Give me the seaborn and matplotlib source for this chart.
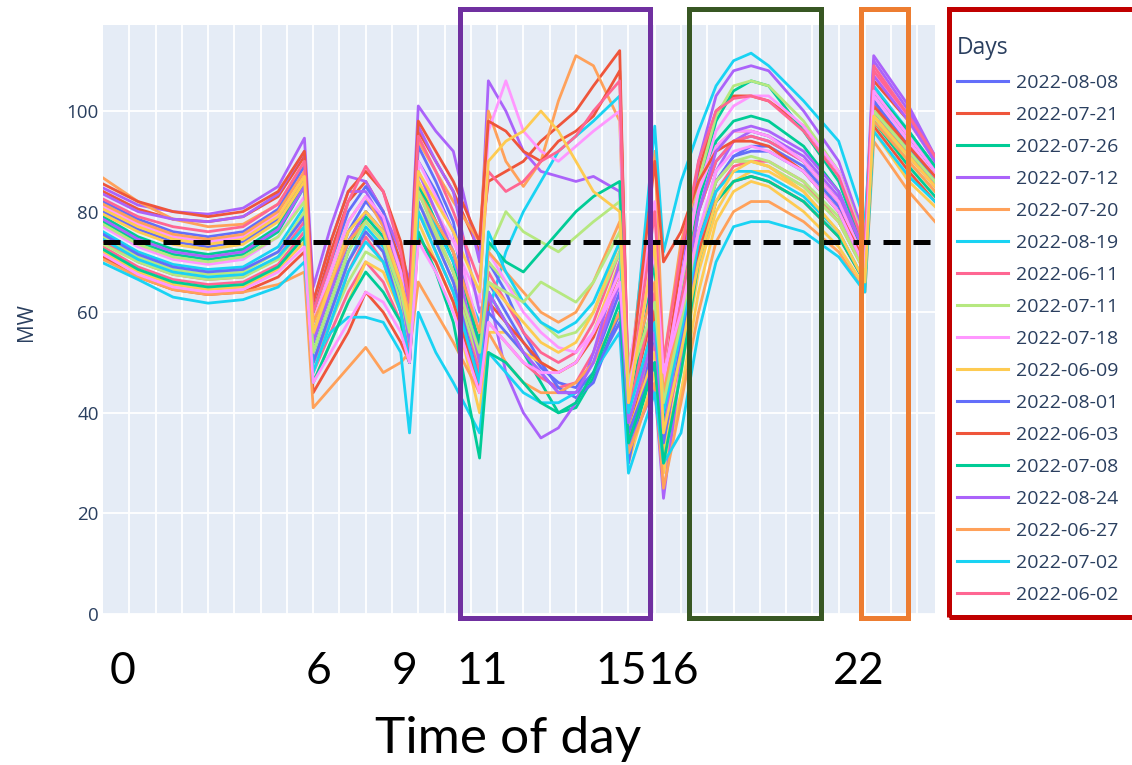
import numpy as np
import pandas as pd
import matplotlib
matplotlib.use("Agg")
import matplotlib.pyplot as plt
from matplotlib.patches import Rectangle
import seaborn as sns

# Sampling instants (hour of day) shared by every daily load profile
hours = [0, 1, 2, 3, 4, 5, 5.75, 6, 6.5, 7, 7.5, 8, 8.5, 8.75, 9, 9.5, 10, 10.75,
         11, 11.5, 12, 12.5, 13, 13.5, 14, 14.75, 15, 15.75, 16, 16.5, 17, 17.5,
         18, 18.5, 19, 20, 21, 21.75, 22, 23, 23.75]

days = ["2022-08-08", "2022-07-21", "2022-07-26", "2022-07-12", "2022-07-20",
        "2022-08-19", "2022-06-11", "2022-07-11", "2022-07-18", "2022-06-09",
        "2022-08-01", "2022-06-03", "2022-07-08", "2022-08-24", "2022-06-27",
        "2022-07-02", "2022-06-02", "2022-06-15", "2022-08-11", "2022-07-28",
        "2022-06-22", "2022-08-16", "2022-06-07", "2022-07-05", "2022-08-03",
        "2022-06-30", "2022-07-14", "2022-08-22", "2022-06-20", "2022-07-25"]

# Load in MW for each day
d0808 = [80, 76.5, 74, 73, 74, 78.5, 87, 56, 66, 76, 82, 78, 66, 56, 90, 84, 76, 50, 66, 60, 54, 49, 46, 45, 50, 64, 34, 58, 38, 58, 76, 86, 91, 93, 93, 89, 81, 71, 102, 92, 86]
d0721 = [84, 80.5, 78.5, 78, 79, 83, 91, 60, 72, 82, 86, 80, 70, 60, 96, 90, 84, 72, 86, 88, 90, 94, 97, 100, 105, 112, 40, 62, 45, 70, 88, 100, 103, 103, 102, 97, 88, 74, 106, 98, 90]
d0726 = [78, 74, 71.5, 70.5, 71.5, 76, 85, 52, 62, 72, 79, 75, 63, 50, 86, 78, 70, 48, 64, 58, 52, 46, 40, 41, 47, 60, 32, 50, 30, 60, 85, 98, 104, 106, 105, 96, 86, 72, 104, 95, 88]
d0712 = [84.7, 81.3, 80, 79.5, 80.7, 85, 94.6, 65, 77, 87, 86, 80, 72, 66, 101, 96, 92, 70, 106, 100, 92, 88, 87, 86, 87, 84, 38, 55, 35, 66, 90, 103, 108, 109, 108, 100, 90, 75, 111, 101, 91]
d0720 = [86.7, 82, 78.5, 77, 77.5, 81.5, 89, 58, 68, 78, 83, 77, 68, 60, 94, 88, 82, 74, 100, 90, 85, 90, 102, 111, 109, 98, 45, 92, 50, 74, 86, 93, 96, 96, 95, 90, 82, 70, 100, 92, 85]
d0819 = [76, 72, 69.5, 68.5, 69, 73, 81, 50, 60, 70, 77, 73, 62, 52, 84, 77, 70, 58, 60, 72, 80, 86, 92, 95, 98, 103, 42, 97, 72, 86, 96, 105, 110, 111.5, 109, 102, 94, 78, 105, 96, 89]
d0611 = [73, 69, 66.5, 65.5, 66, 69.5, 76, 48, 56, 64, 70, 66, 58, 50, 80, 72, 64, 44, 58, 54, 50, 47, 45, 46, 52, 66, 36, 54, 34, 52, 72, 84, 89, 90, 90, 86, 78, 68, 100, 91, 85]
d0711 = [75, 71, 68.5, 67.5, 68, 72, 80, 50, 60, 70, 76, 72, 62, 54, 82, 75, 68, 52, 72, 80, 76, 74, 72, 75, 78, 82, 50, 70, 40, 62, 86, 99, 105, 106, 105, 98, 88, 74, 103, 95, 88]
d0718 = [77, 73, 70.5, 69.5, 70.5, 75, 83, 54, 64, 74, 80, 76, 66, 56, 88, 80, 74, 62, 96, 106, 96, 92, 90, 93, 96, 100, 48, 82, 42, 66, 84, 96, 101, 103, 103, 97, 88, 73, 108, 98, 90]
d0609 = [72, 68, 65.5, 64.5, 65, 68.5, 74, 46, 54, 62, 70, 68, 60, 52, 78, 70, 62, 40, 56, 56, 52, 50, 48, 50, 56, 70, 30, 48, 28, 44, 64, 78, 84, 86, 85, 80, 73, 65, 96, 86, 81]
d0801 = [82, 78.5, 76, 75, 76, 80.5, 89, 60, 70, 80, 85, 80, 68, 58, 93, 86, 78, 52, 70, 64, 56, 50, 45, 43, 46, 60, 30, 56, 36, 62, 80, 90, 94, 95, 94, 90, 82, 72, 104, 95, 88]
d0603 = [71, 67, 64.5, 63.5, 64, 67, 72, 44, 50, 56, 64, 60, 54, 50, 75, 70, 62, 45, 62, 58, 54, 50, 48, 50, 55, 68, 35, 60, 42, 56, 72, 82, 86, 87, 86, 82, 75, 66, 97, 88, 82]
d0708 = [79, 75, 72.5, 71.5, 72.5, 77, 86, 54, 64, 74, 80, 76, 64, 52, 85, 78, 72, 54, 74, 70, 68, 72, 76, 80, 83, 86, 40, 70, 38, 60, 82, 94, 98, 99, 98, 93, 84, 71, 104, 96, 89]
d0824 = [83.5, 80, 78.5, 78, 79, 83.5, 92, 62, 74, 84, 84, 78, 68, 60, 97, 90, 84, 60, 64, 48, 40, 35, 37, 42, 52, 70, 33, 45, 23, 50, 75, 88, 94, 96, 95, 91, 83, 72, 110, 100, 91]
d0627 = [70.5, 67, 64.5, 63.5, 64, 65.5, 68, 41, 45, 49, 53, 48, 50, 52, 66, 60, 54, 44, 56, 50, 46, 44, 44, 46, 50, 60, 32, 46, 25, 42, 60, 74, 80, 82, 82, 78, 72, 64, 94, 84, 78]
d0702 = [69.8, 66.5, 63, 61.8, 62.5, 65, 70, 50, 56, 59, 59, 58, 52, 36, 60, 52, 46, 36, 52, 48, 44, 42, 42, 44, 48, 56, 28, 44, 30, 36, 56, 70, 77, 78, 78, 76, 71, 64, 96, 87, 82]
d0602 = [74, 70, 67.5, 66.5, 67, 71, 78, 50, 58, 68, 75, 70, 60, 52, 84, 76, 68, 48, 68, 62, 56, 52, 50, 52, 58, 72, 40, 64, 44, 62, 80, 90, 94, 95, 94, 90, 82, 70, 109, 99, 90]
d0615 = [73.5, 70, 67.5, 66.5, 67, 70.5, 77, 48, 58, 66, 72, 70, 62, 54, 80, 74, 66, 50, 70, 66, 62, 58, 55, 56, 60, 72, 38, 56, 36, 56, 76, 86, 90, 91, 90, 86, 79, 68, 99, 90, 84]
d0811 = [81, 77.5, 75, 74, 75, 79.5, 88, 58, 68, 78, 83, 79, 68, 56, 90, 83, 76, 56, 72, 66, 60, 56, 53, 52, 56, 68, 42, 74, 46, 66, 84, 93, 96, 96, 95, 90, 82, 70, 103, 94, 87]
d0728 = [79.5, 76, 73.5, 72.5, 73.5, 78, 86, 55, 65, 74, 78, 74, 64, 56, 86, 80, 72, 50, 66, 62, 58, 54, 52, 54, 60, 74, 36, 52, 32, 48, 68, 80, 86, 88, 88, 84, 76, 66, 101, 92, 86]
d0622 = [75.5, 71.5, 69, 68, 68.5, 72, 79, 50, 60, 70, 76, 72, 60, 50, 82, 74, 66, 46, 60, 56, 52, 48, 44, 44, 48, 58, 36, 50, 34, 54, 74, 86, 91, 92, 92, 88, 80, 69, 102, 93, 86]
d0816 = [85.5, 82, 80, 79, 80, 84, 92, 62, 74, 84, 88, 84, 74, 64, 98, 92, 86, 74, 98, 96, 92, 90, 94, 96, 99, 108, 44, 90, 70, 76, 86, 92, 94, 94, 93, 88, 80, 70, 101, 93, 87]
d0607 = [72.5, 68.5, 66, 65, 65.5, 69, 75, 46, 54, 62, 68, 64, 58, 50, 76, 68, 58, 31, 52, 50, 46, 42, 40, 42, 48, 62, 34, 50, 30, 48, 70, 82, 86, 87, 86, 82, 75, 66, 98, 89, 83]
d0705 = [78.5, 74.5, 72, 71, 72, 76.5, 85, 54, 64, 74, 80, 76, 64, 54, 88, 80, 72, 50, 64, 58, 52, 48, 44, 44, 50, 66, 38, 56, 36, 58, 80, 92, 96, 97, 96, 92, 84, 72, 107, 98, 90]
d0803 = [81.5, 78, 75.5, 74.5, 75.5, 80, 88, 58, 66, 74, 78, 74, 66, 60, 84, 78, 72, 56, 72, 68, 64, 60, 58, 60, 66, 78, 46, 66, 44, 60, 76, 86, 90, 90, 89, 85, 78, 68, 98, 90, 84]
d0630 = [74.5, 70.5, 68, 67, 67.5, 71, 77, 48, 58, 68, 74, 70, 60, 50, 80, 72, 64, 46, 76, 68, 62, 58, 56, 58, 62, 74, 40, 58, 40, 56, 74, 84, 88, 88, 87, 83, 76, 66, 100, 92, 86]
d0714 = [82.5, 79, 77, 76, 77, 81.5, 90, 60, 70, 82, 89, 84, 72, 62, 95, 88, 80, 66, 88, 84, 86, 90, 92, 95, 100, 106, 42, 80, 50, 72, 90, 100, 102.5, 103, 102, 96, 87, 73, 108, 99, 91]
d0822 = [77.5, 73.5, 71, 70, 71, 75, 82, 52, 62, 72, 78, 74, 64, 56, 84, 76, 68, 52, 66, 64, 62, 66, 64, 62, 66, 76, 46, 62, 42, 58, 76, 86, 90, 90, 89, 85, 78, 68, 100, 92, 86]
d0620 = [71.5, 67.5, 65, 64, 64.5, 68, 73, 46, 52, 58, 64, 62, 56, 50, 74, 68, 60, 44, 58, 54, 50, 48, 48, 50, 56, 66, 44, 72, 48, 60, 76, 88, 92, 93, 92, 88, 80, 69, 104, 95, 88]
d0725 = [80.5, 77, 74.5, 73.5, 74.5, 79, 87, 56, 66, 76, 80, 76, 66, 58, 88, 82, 76, 64, 90, 94, 96, 100, 96, 90, 84, 80, 42, 74, 36, 52, 70, 82, 88, 90, 89, 84, 76, 66, 99, 91, 85]

series = [d0808, d0721, d0726, d0712, d0720, d0819, d0611, d0711, d0718, d0609,
          d0801, d0603, d0708, d0824, d0627, d0702, d0602, d0615, d0811, d0728,
          d0622, d0816, d0607, d0705, d0803, d0630, d0714, d0822, d0620, d0725]

threshold_mw = 74
y_ticks = [0, 20, 40, 60, 80, 100]
hour_labels = ["0", "6", "9", "11", "15", "16", "22"]

# long-form table for seaborn
rows = []
for day, vals in zip(days, series):
    if len(vals) != len(hours):
        raise ValueError(f"{day}: {len(vals)} values for {len(hours)} hours")
    for h, v in zip(hours, vals):
        rows.append((h, v, day))
df = pd.DataFrame(rows, columns=["hour", "MW", "Days"])

plotly_colors = ["#636EFA", "#EF553B", "#00CC96", "#AB63FA", "#FFA15A",
                 "#19D3F3", "#FF6692", "#B6E880", "#FF97FF", "#FECB52"]
palette = [plotly_colors[i % len(plotly_colors)] for i in range(len(days))]

text_color = "#2a3f5f"
plt.rcParams["font.family"] = ["Open Sans", "DejaVu Sans"]

W, H = 1132, 765
fig = plt.figure(figsize=(W / 100, H / 100), dpi=100)
ax = fig.add_axes([103 / W, 1 - 614 / H, 832 / W, 589 / H])
ax.set_facecolor("#E5ECF6")

sns.lineplot(data=df, x="hour", y="MW", hue="Days", hue_order=days,
             palette=palette, estimator=None, sort=False, lw=2.0,
             legend="full", ax=ax)

ax.axhline(threshold_mw, color="black", lw=3.6, dashes=(3.4, 2.6), zorder=5)

ax.set_xlim(0, 23.75)
ax.set_ylim(0, 117.1)
ax.set_xticks(np.arange(0.75, 23.5, 0.75))
ax.set_xticklabels([])
ax.set_yticks(y_ticks)
ax.set_yticklabels([str(v) for v in y_ticks], color=text_color, fontsize=13.5)
ax.tick_params(length=0, pad=3)
ax.grid(True, color="white", lw=1.3)
ax.set_axisbelow(True)
for sp in ax.spines.values():
    sp.set_visible(False)
ax.set_xlabel("")
ax.set_ylabel("")
fig.text(27 / W, 1 - 322 / H, "MW", rotation=90, ha="center", va="center",
         color=text_color, fontsize=15)

# legend: only the first entries fit in the visible legend column
leg = ax.get_legend()
handles = list(leg.legend_handles)
labels = [t.get_text() for t in leg.get_texts()]
leg.remove()
for hd in handles:
    hd.set_linewidth(2.2)
lg = fig.legend(handles[:17], labels[:17], title="Days", loc="upper left",
                bbox_to_anchor=(957 / W, 1 - 36 / H), frameon=False,
                fontsize=14, title_fontsize=16.5, handlelength=2.6,
                handletextpad=0.45, labelspacing=0.72, borderpad=0,
                borderaxespad=0, alignment="left")
for t in lg.get_texts():
    t.set_color(text_color)
lg.get_title().set_color(text_color)

# large hour markers and axis caption
label_px = [123, 319, 405, 482, 621, 673, 859]
for px, lab in zip(label_px, hour_labels):
    fig.text(px / W, 1 - 684 / H, lab, ha="center", va="baseline",
             fontsize=32, family="Lato", color="black")
fig.text(508 / W, 1 - 753 / H, "Time of day", ha="center", va="baseline",
         fontsize=37, family="Lato", color="black")

# highlighted periods and legend frame
boxes = [((459.5, 8.5), (649.5, 617.5), "#7030A0"),
         ((689, 8.5), (821, 617.5), "#385723"),
         ((860.5, 8.5), (908, 617.5), "#ED7D31"),
         ((948.5, 8.5), (1140, 616.5), "#C00000")]
for (x0, y0), (x1, y1), col in boxes:
    fig.patches.append(Rectangle((x0 / W, 1 - y1 / H), (x1 - x0) / W, (y1 - y0) / H,
                                 transform=fig.transFigure, fill=False,
                                 edgecolor=col, lw=3.6, joinstyle="miter",
                                 zorder=10))

fig.savefig("out.png", dpi=100)
